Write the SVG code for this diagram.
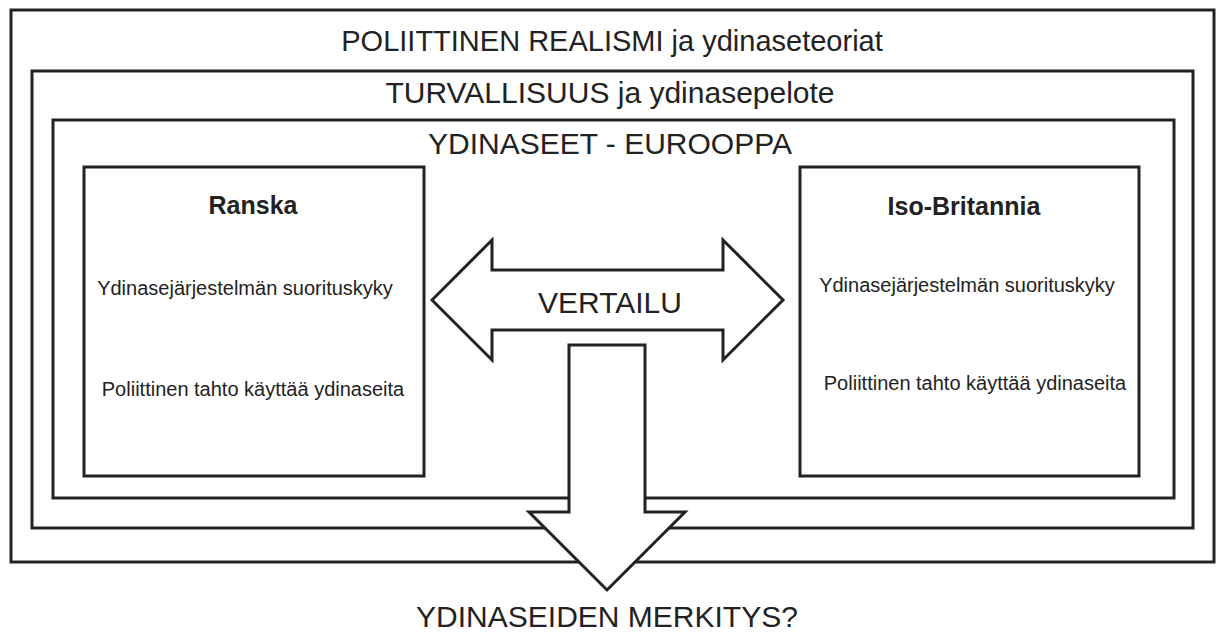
<svg xmlns="http://www.w3.org/2000/svg" width="1224" height="633" viewBox="0 0 1224 633">
<style>
.box{fill:#fff;stroke:#222;stroke-width:3}
.frame{fill:none;stroke:#222;stroke-width:3}
.arr{fill:#fff;stroke:#222;stroke-width:3;stroke-linejoin:miter}
text{font-family:"Liberation Sans",Arial,sans-serif;fill:#222;text-anchor:middle}
.big{font-size:30px}
.hd{font-size:25px;font-weight:bold}
.sm{font-size:20px}
</style>
<rect width="1224" height="633" fill="#fff"/>
<g id="realismi">
<rect class="frame" x="11" y="10" width="1203" height="552"/>
<text class="big" x="612" y="51" style="font-size:29px">POLIITTINEN REALISMI ja ydinaseteoriat</text>
</g>
<g id="turvallisuus">
<rect class="frame" x="32" y="71" width="1161" height="457"/>
<text class="big" x="610" y="103">TURVALLISUUS ja ydinasepelote</text>
</g>
<g id="eurooppa">
<rect class="frame" x="53" y="120" width="1121" height="378"/>
<text class="big" x="610" y="154">YDINASEET - EUROOPPA</text>
</g>
<g id="ranska">
<rect class="box" x="84" y="167" width="340" height="309"/>
<text class="hd" x="253" y="214">Ranska</text>
<text class="sm" x="245" y="295">Ydinasejärjestelmän suorituskyky</text>
<text class="sm" x="253" y="396">Poliittinen tahto käyttää ydinaseita</text>
</g>
<g id="isobritannia">
<rect class="box" x="800" y="167" width="339" height="309"/>
<text class="hd" x="964" y="215">Iso-Britannia</text>
<text class="sm" x="967" y="292">Ydinasejärjestelmän suorituskyky</text>
<text class="sm" x="975" y="390">Poliittinen tahto käyttää ydinaseita</text>
</g>
<g id="connectors">
<g id="vertailu">
<polygon class="arr" points="432,300 492,240 492,270 723,270 723,240 783,300 723,360 723,330 492,330 492,360"/>
<text class="big" x="610" y="313">VERTAILU</text>
</g>
<g id="alas">
<polygon class="arr" points="569,345 645,345 645,512 685,512 607,590 529,512 569,512"/>
</g>
</g>
<g id="merkitys">
<text class="big" x="607" y="627">YDINASEIDEN MERKITYS?</text>
</g>
</svg>
